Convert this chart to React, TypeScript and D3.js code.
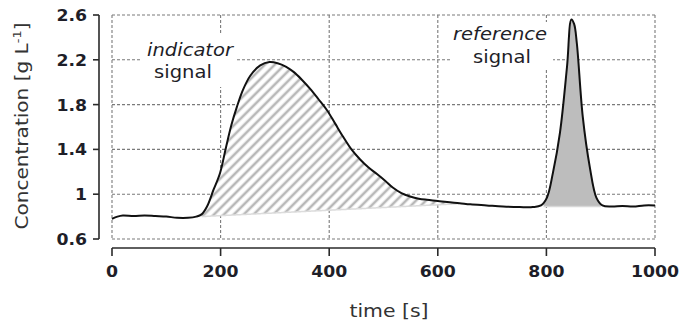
import React from "react";
import * as d3 from "d3";

// Measured concentration trace: time [s] and concentration [g L^-1]
const times = [
  0, 10, 20, 40, 60, 80, 100, 120, 140, 155, 165, 175, 187, 199, 210, 220, 230,
  241, 255, 273, 290, 305, 320, 335, 350, 365, 380, 396, 411, 426, 441, 457,
  472, 488, 503, 517, 533, 549, 565, 580, 600, 617, 640, 660, 690, 720, 751,
  775, 790, 801, 812, 825, 838, 846, 851, 856, 867, 880, 892, 903, 920, 940,
  960, 980, 1000,
];
const concentration = [
  0.78, 0.8, 0.81, 0.805, 0.81, 0.805, 0.8, 0.79, 0.79, 0.8, 0.82, 0.89, 1.04,
  1.19, 1.42, 1.62, 1.78, 1.93, 2.06, 2.15, 2.18, 2.17, 2.14, 2.09, 2.02, 1.94,
  1.85, 1.75, 1.63, 1.51, 1.4, 1.31, 1.24, 1.18, 1.12, 1.06, 1.01, 0.98, 0.96,
  0.95, 0.94, 0.93, 0.92, 0.91, 0.9, 0.89, 0.885, 0.885, 0.9, 0.97, 1.19, 1.55,
  2.14, 2.56, 2.52, 2.35, 1.69, 1.24, 0.97, 0.9, 0.89, 0.895, 0.89, 0.9, 0.9,
];

// Integration windows and their baselines
const indicatorStart = 165;
const indicatorEnd = 640;
const indicatorBase = [0.8, 0.915];
const referenceStart = 795;
const referenceEnd = 900;
const referenceBase = 0.89;

const xTicks = [0, 200, 400, 600, 800, 1000];
const yTicks = [0.6, 1, 1.4, 1.8, 2.2, 2.6];

const W = 683;
const H = 323;

export default function App() {
  const x = d3.scaleLinear().domain([0, 1000]).range([112, 655]);
  const y = d3.scaleLinear().domain([0.6, 2.6]).range([239, 15]);

  const pts = times.map((t, i) => ({ t, c: concentration[i] }));
  const interp = (t: number) => {
    const i = d3.bisector((d: any) => d.t).left(pts, t);
    if (i <= 0) return pts[0].c;
    if (i >= pts.length) return pts[pts.length - 1].c;
    const a = pts[i - 1];
    const b = pts[i];
    return a.c + ((b.c - a.c) * (t - a.t)) / (b.t - a.t);
  };

  const line = d3
    .line<any>()
    .x((d) => x(d.t))
    .y((d) => y(d.c))
    .curve(d3.curveCatmullRom.alpha(0.5));

  const baseAt = (t: number) =>
    indicatorBase[0] +
    ((indicatorBase[1] - indicatorBase[0]) * (t - indicatorStart)) /
      (indicatorEnd - indicatorStart);

  const indSamples = d3
    .range(indicatorStart, indicatorEnd + 0.01, 2)
    .map((t) => ({ t, c: Math.max(interp(t), baseAt(t)), b: baseAt(t) }));
  const refSamples = d3
    .range(referenceStart, referenceEnd + 0.01, 1)
    .map((t) => ({ t, c: Math.max(interp(t), referenceBase), b: referenceBase }));

  const area = d3
    .area<any>()
    .x((d) => x(d.t))
    .y0((d) => y(d.b))
    .y1((d) => y(d.c))
    .curve(d3.curveMonotoneX);

  const font = "'DejaVu Sans', Verdana, sans-serif";
  const txt = "#1e1e28";

  return (
    <svg
      width={W}
      height={H}
      style={{ position: "absolute", left: 0, top: 0, background: "#fff" }}
      fontFamily={font}
    >
      <defs>
        <pattern
          id="hatch"
          patternUnits="userSpaceOnUse"
          width={7}
          height={7}
          patternTransform="rotate(45)"
        >
          <rect width={7} height={7} fill="#fff" />
          <line x1={2} y1={0} x2={2} y2={7} stroke="#b8b8b8" strokeWidth={2.6} />
        </pattern>
      </defs>

      {/* dashed grid and frame */}
      <g stroke="#7a7a7a" strokeWidth={1.1} strokeDasharray="3,2" fill="none">
        {xTicks.map((t) => (
          <line key={"gx" + t} x1={x(t)} x2={x(t)} y1={y(2.6)} y2={y(0.6)} />
        ))}
        {yTicks.map((v) => (
          <line key={"gy" + v} x1={x(0)} x2={x(1000)} y1={y(v)} y2={y(v)} />
        ))}
      </g>

      {/* label backgrounds */}
      <rect x={140} y={33} width={96} height={54} fill="#fff" />
      <rect x={451} y={22} width={102} height={48} fill="#fff" />

      {/* integrated areas */}
      <path d={area(indSamples) || ""} fill="url(#hatch)" />
      <path
        d={d3.line<any>().x((d) => x(d.t)).y((d) => y(d.b))(indSamples) || ""}
        stroke="#dcdcdc"
        strokeWidth={1.5}
        fill="none"
      />
      <path d={area(refSamples) || ""} fill="#bdbdbd" />
      <line
        x1={x(referenceStart)}
        x2={x(referenceEnd)}
        y1={y(referenceBase)}
        y2={y(referenceBase)}
        stroke="#d8d8d8"
        strokeWidth={1.5}
      />

      {/* signal trace */}
      <path
        d={line(pts) || ""}
        fill="none"
        stroke="#111"
        strokeWidth={2}
        strokeLinejoin="round"
      />

      {/* annotations */}
      <g fill={txt} fontSize={17} textAnchor="middle">
        <text transform={`translate(190,56) scale(1.15,1)`} fontStyle="italic">
          indicator
        </text>
        <text transform={`translate(183,78) scale(1.15,1)`}>signal</text>
        <text transform={`translate(500,40) scale(1.15,1)`} fontStyle="italic">
          reference
        </text>
        <text transform={`translate(502,63) scale(1.15,1)`}>signal</text>
      </g>

      {/* axes */}
      <g stroke="#2a2a2a" strokeWidth={1.6} fill="none">
        <line x1={99} x2={99} y1={y(2.6)} y2={y(0.6)} />
        {yTicks.map((v) => (
          <line key={"ty" + v} x1={93} x2={99} y1={y(v)} y2={y(v)} />
        ))}
        <line x1={x(0)} x2={x(1000)} y1={248} y2={248} />
        {xTicks.map((t) => (
          <line key={"tx" + t} x1={x(t)} x2={x(t)} y1={248} y2={256} />
        ))}
      </g>
      <g fill={txt} fontSize={16} fontWeight="bold">
        {yTicks.map((v) => (
          <text
            key={"ly" + v}
            textAnchor="end"
            transform={`translate(87,${y(v) + 6}) scale(1.08,1)`}
          >
            {d3.format("~g")(v)}
          </text>
        ))}
        {xTicks.map((t) => (
          <text
            key={"lx" + t}
            textAnchor="middle"
            transform={`translate(${x(t)},277) scale(1.08,1)`}
          >
            {t}
          </text>
        ))}
      </g>

      {/* axis titles */}
      <text
        fill="#333"
        fontSize={17}
        textAnchor="middle"
        transform="translate(389,317) scale(1.2,1)"
      >
        time [s]
      </text>
      <text
        fill="#333"
        fontSize={17}
        textAnchor="middle"
        transform="translate(28,126) rotate(-90) scale(1.18,1)"
      >
        Concentration [g L
        <tspan fontSize={11} dy={-7}>
          -1
        </tspan>
        <tspan dy={7}>]</tspan>
      </text>
    </svg>
  );
}
